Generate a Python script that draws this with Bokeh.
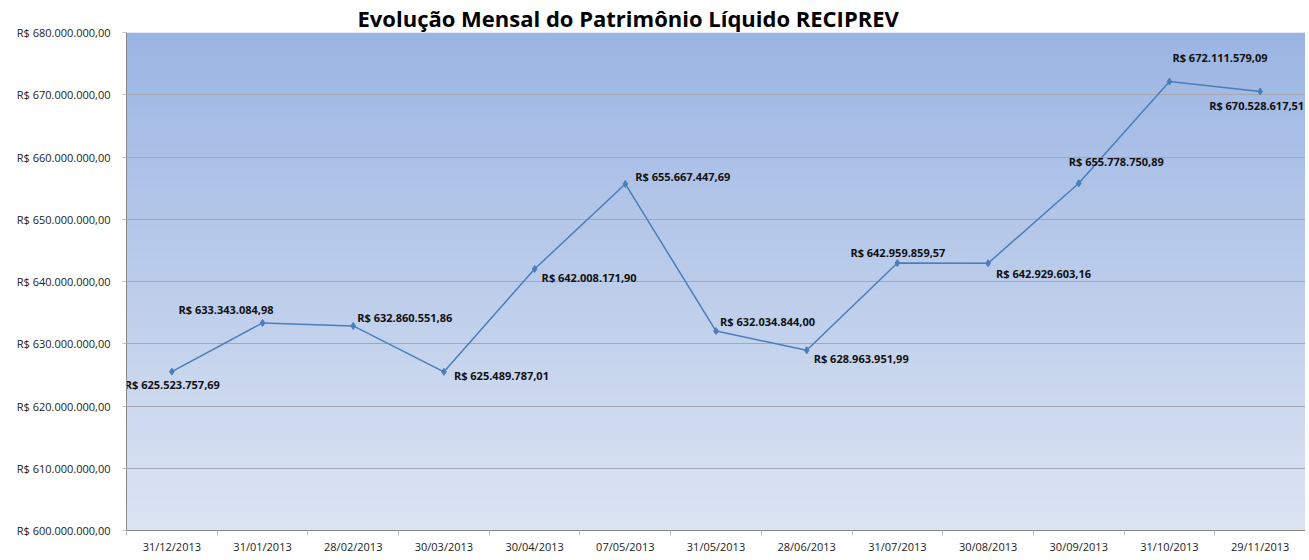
import numpy as np
from bokeh.plotting import figure
from bokeh.models import FixedTicker, ColumnDataSource
from bokeh.embed import file_html
from bokeh.resources import INLINE
from bokeh.core.properties import value

title_text = "Evolução Mensal do Patrimônio Líquido RECIPREV"

dates = ["31/12/2013", "31/01/2013", "28/02/2013", "30/03/2013", "30/04/2013",
         "07/05/2013", "31/05/2013", "28/06/2013", "31/07/2013", "30/08/2013",
         "30/09/2013", "31/10/2013", "29/11/2013"]

values = [625523757.69, 633343084.98, 632860551.86, 625489787.01, 642008171.90,
          655667447.69, 632034844.00, 628963951.99, 642959859.57, 642929603.16,
          655778750.89, 672111579.09, 670528617.51]

value_labels = ["R$ 625.523.757,69", "R$ 633.343.084,98", "R$ 632.860.551,86",
                "R$ 625.489.787,01", "R$ 642.008.171,90", "R$ 655.667.447,69",
                "R$ 632.034.844,00", "R$ 628.963.951,99", "R$ 642.959.859,57",
                "R$ 642.929.603,16", "R$ 655.778.750,89", "R$ 672.111.579,09",
                "R$ 670.528.617,51"]

y_ticks = [600000000, 610000000, 620000000, 630000000, 640000000,
           650000000, 660000000, 670000000, 680000000]
y_tick_labels = ["R$ 600.000.000,00", "R$ 610.000.000,00", "R$ 620.000.000,00",
                 "R$ 630.000.000,00", "R$ 640.000.000,00", "R$ 650.000.000,00",
                 "R$ 660.000.000,00", "R$ 670.000.000,00", "R$ 680.000.000,00"]

# label placement (screen pixels, relative to each point) - layout only
label_dx = [-47, -84, 4, 10, 7, 10, 4, 7, -47, 8, -10, 3, -51]
label_dy = [12.5, -13, -8.6, 4, 8.3, -7.7, -9.6, 8.5, -11, 10.7, -21.8, -24.6, 14]

n = len(dates)
xs = list(range(n))

p = figure(width=1305, height=556, output_backend="svg", toolbar_location=None,
           x_range=(-0.5, n - 0.5), y_range=(y_ticks[0], y_ticks[-1]),
           min_border_left=126, min_border_right=0, min_border_top=0,
           min_border_bottom=22, outline_line_color=None,
           background_fill_color="white", border_fill_color="white")

p.title.text = title_text
p.title.text_font = "Open Sans"
p.title.text_font_size = "22px"
p.title.text_font_style = "bold"
p.title.text_color = "#000000"
p.title.text_line_height = 1.0
p.title.align = "left"
p.title.offset = 231
p.title.standoff = 0

# gradient background
N = 256
top = np.array([155, 181, 227], dtype=float)
bot = np.array([221, 229, 243], dtype=float)
t = np.linspace(0, 1, N)[:, None]
cols = (bot * (1 - t) + top * t).astype(np.uint32)
img = np.zeros((N, 1), dtype=np.uint32)
view = img.view(dtype=np.uint8).reshape((N, 1, 4))
view[:, 0, 0] = cols[:, 0]
view[:, 0, 1] = cols[:, 1]
view[:, 0, 2] = cols[:, 2]
view[:, 0, 3] = 255
bg = p.image_rgba(image=[img], x=-0.5, y=y_ticks[0], dw=n, dh=y_ticks[-1] - y_ticks[0])
bg.level = "image"

src = ColumnDataSource(dict(x=xs, y=values, label=value_labels, dx=label_dx, dy=label_dy))

p.line("x", "y", source=src, line_color="#4A7EBB", line_width=1.5)
p.scatter("x", "y", source=src, marker="diamond", size=7, color="#4A7EBB")
p.text(x="x", y="y", text="label", x_offset="dx", y_offset="dy", source=src,
       text_align="left", text_baseline="middle", text_font=value("Open Sans"),
       text_font_style="bold", text_font_size="11px", text_color="#111111")

# axes
p.xgrid.visible = False
p.ygrid.grid_line_color = "#A3A8B0"
p.ygrid.grid_line_width = 1

p.xaxis.ticker = FixedTicker(ticks=xs, minor_ticks=[i - 0.5 for i in range(n + 1)])
p.xaxis.major_label_overrides = {i: d for i, d in enumerate(dates)}
p.xaxis.major_tick_line_color = None
p.xaxis.major_tick_out = 4
p.xaxis.major_tick_in = 0
p.xaxis.minor_tick_out = 5
p.xaxis.minor_tick_in = 0
p.xaxis.minor_tick_line_color = "#BFBFBF"
p.xaxis.axis_line_color = "#868686"
p.xaxis.major_label_standoff = 3

p.yaxis.ticker = FixedTicker(ticks=y_ticks, minor_ticks=[])
p.yaxis.major_label_overrides = {v: l for v, l in zip(y_ticks, y_tick_labels)}
p.yaxis.major_tick_out = 4
p.yaxis.major_tick_in = 0
p.yaxis.major_tick_line_color = "#BFBFBF"
p.yaxis.axis_line_color = "#868686"
p.yaxis.major_label_standoff = 12

for ax in (p.xaxis, p.yaxis):
    ax.major_label_text_font = "Open Sans"
    ax.major_label_text_font_size = "11px"
    ax.major_label_text_color = "#222222"

open("out.html", "w").write(file_html(p, INLINE))
